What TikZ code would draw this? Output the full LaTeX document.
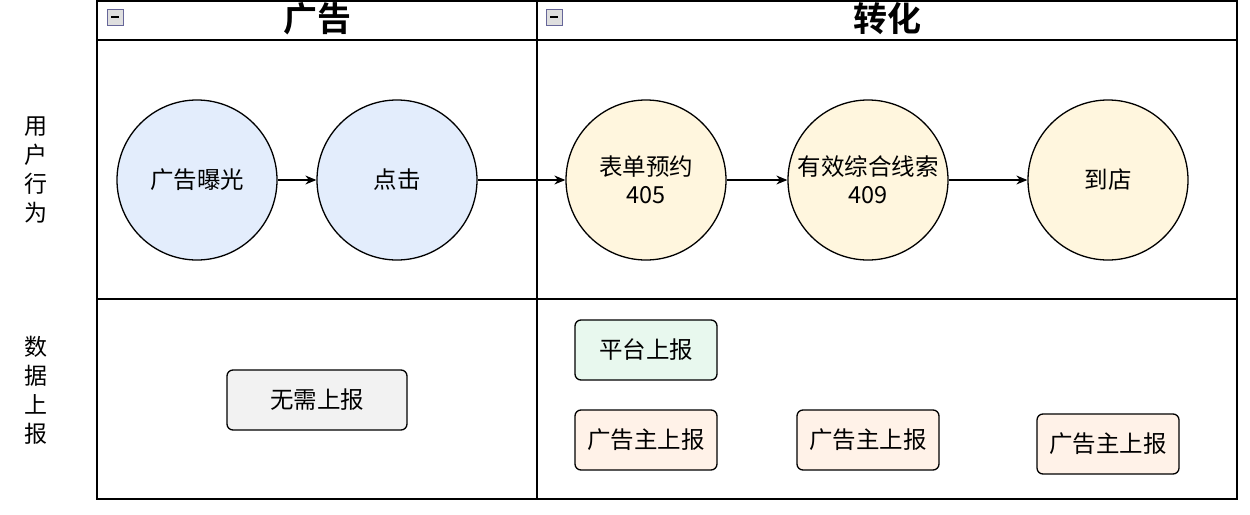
\documentclass[tikz,border=0pt]{standalone}
\usepackage{fontspec}
\setmainfont{Liberation Sans}
\newfontfamily\cjk{Noto Sans CJK SC}
\newfontfamily\cjkb{Noto Sans CJK SC Bold}
\usetikzlibrary{arrows.meta}
\definecolor{cblue}{HTML}{E3EDFC}
\definecolor{cyel}{HTML}{FFF6DE}
\definecolor{cgray}{HTML}{F2F2F2}
\definecolor{cgreen}{HTML}{E8F8EE}
\definecolor{cpeach}{HTML}{FFF2E8}
\begin{document}
\begin{tikzpicture}[x=1pt,y=-1pt,
  lane/.style={draw=black,line width=1.6pt},
  circ/.style={circle,draw=black,line width=1.3pt,minimum size=160pt,inner sep=0pt,align=center,font=\cjk\fontsize{23.5}{28}\selectfont},
  rbox/.style={rounded corners=6pt,draw=black,line width=1.3pt,minimum width=142pt,minimum height=60pt,inner sep=0pt,font=\cjk\fontsize{23.5}{28}\selectfont},
  arr/.style={-{Stealth[length=11pt,width=9pt]},line width=1.1pt},
  icon/.style={draw=gray!80!blue,fill=gray!25,line width=0.8pt,minimum size=16pt,inner sep=0pt},
  head/.style={font=\cjkb\fontsize{34}{38}\selectfont},
  side/.style={align=center,font=\cjk\fontsize{23}{29}\selectfont}]
\useasboundingbox (0,0) rectangle (1250,514);
% lanes
\draw[lane] (97,1) rectangle (1237,499);
\draw[lane] (97,40) -- (1237,40);
\draw[lane] (537,1) -- (537,499);
\draw[lane] (97,299) -- (1237,299);
% icons
\node[icon] (ic1) at (115,17) {};
\draw[line width=1.2pt] ([xshift=-4pt]ic1.center) -- ([xshift=4pt]ic1.center);
\node[icon] (ic2) at (554,17) {};
\draw[line width=1.2pt] ([xshift=-4pt]ic2.center) -- ([xshift=4pt]ic2.center);
% headers
\node[head] (h1) at (317,19) {广告};
\node[head] (h2) at (887,19) {转化};
% side labels
\node[side] (s1) at (36,170) {用\\户\\行\\为};
\node[side] (s2) at (36,390) {数\\据\\上\\报};
% circles
\node[circ,fill=cblue] (c1) at (197,180) {广告曝光};
\node[circ,fill=cblue] (c2) at (397,180) {点击};
\node[circ,fill=cyel] (c3) at (646,180) {表单预约\\405};
\node[circ,fill=cyel] (c4) at (868,180) {有效综合线索\\409};
\node[circ,fill=cyel] (c5) at (1108,180) {到店};
\draw[arr] (c1) -- (c2);
\draw[arr] (c2) -- (c3);
\draw[arr] (c3) -- (c4);
\draw[arr] (c4) -- (c5);
% boxes
\node[rbox,fill=cgray,minimum width=180pt] (b1) at (317,400) {无需上报};
\node[rbox,fill=cgreen] (b2) at (646,350) {平台上报};
\node[rbox,fill=cpeach] (b3) at (646,440) {广告主上报};
\node[rbox,fill=cpeach] (b4) at (868,440) {广告主上报};
\node[rbox,fill=cpeach] (b5) at (1108,444) {广告主上报};
\end{tikzpicture}
\end{document}
